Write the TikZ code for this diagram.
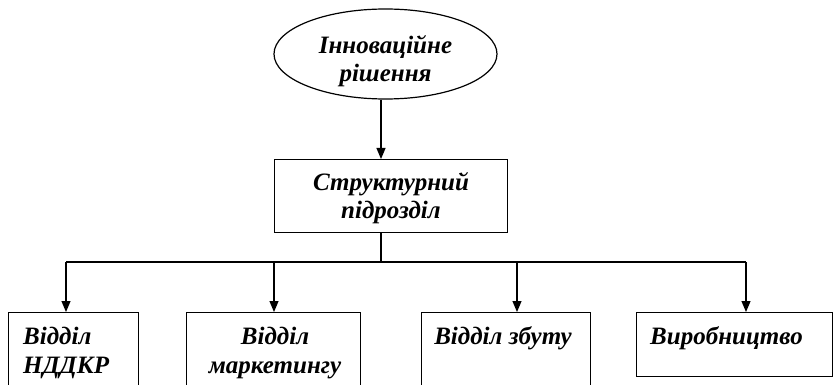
\documentclass[tikz,border=0pt]{standalone}
\usepackage{fontspec}
\setmainfont{Liberation Serif}
\usetikzlibrary{shapes.geometric,arrows.meta}
\begin{document}
\begin{tikzpicture}[x=1pt,y=-1pt,
  every node/.style={font=\fontsize{25}{28.5}\selectfont\bfseries\itshape},
  box/.style={draw,line width=1.2pt,rectangle,inner sep=0pt,anchor=north west},
  lbl/.style={inner sep=0pt,align=left},
  arr/.style={line width=1.2pt,-{Triangle[length=11pt,width=9pt]}},
  ln/.style={line width=1.2pt}]
\useasboundingbox (0,0) rectangle (833,385);
\clip (0,0) rectangle (833,385);
\node[draw,line width=1.2pt,ellipse,minimum width=223pt,minimum height=90pt,inner sep=0pt] (ell) at (385.5,54) {};
\node[lbl,align=center] (ellt) at (385.5,61) {Інноваційне\\рішення};
\node[box,minimum width=233pt,minimum height=73pt] (sb) at (274,159) {};
\node[lbl,align=center] (sbt) at (391,198) {Структурний\\підрозділ};
\node[box,minimum width=130pt,minimum height=90pt] (b1) at (8,312) {};
\node[box,minimum width=174pt,minimum height=90pt] (b2) at (186,312) {};
\node[box,minimum width=169pt,minimum height=90pt] (b3) at (421,312) {};
\node[box,minimum width=196pt,minimum height=64pt] (b4) at (636,312) {};
\node[lbl,anchor=west] (b1t) at (23,353) {Відділ\\НДДКР};
\node[lbl,align=center] (b2t) at (275,353) {Відділ\\маркетингу};
\node[lbl] (b3t) at (503,338) {Відділ збуту};
\node[lbl] (b4t) at (726.5,338) {Виробництво};
\coordinate (j) at (381,262);
\coordinate (t1) at (66,262);
\coordinate (t2) at (274,262);
\coordinate (t3) at (517,262);
\coordinate (t4) at (746,262);
\draw[arr] (ell.south -| j) -- (sb.north -| j);
\draw[ln] (sb.south -| j) -- (j);
\draw[ln] (t1) -- (t4);
\draw[arr] (t1) -- (t1 |- b1.north);
\draw[arr] (t2) -- (t2 |- b2.north);
\draw[arr] (t3) -- (t3 |- b3.north);
\draw[arr] (t4) -- (t4 |- b4.north);
\end{tikzpicture}
\end{document}
